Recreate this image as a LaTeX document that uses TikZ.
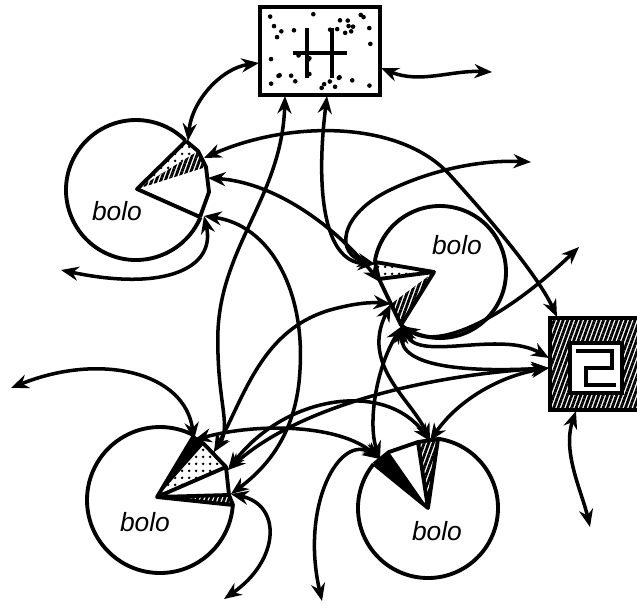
\documentclass[tikz,border=0pt]{standalone}
\usepackage{fontspec}
\setsansfont{Liberation Sans}
\usetikzlibrary{arrows.meta,patterns.meta}

\begin{document}
\begin{tikzpicture}[x=0.02cm, y=-0.02cm,
    >={Stealth[length=10pt,width=8pt]},
    link/.style={<->, line width=2pt},
    ring/.style={line width=2.2pt},
    mouth/.style={line width=2.2pt, line join=round},
    stipple/.style={pattern={Dots[distance=4pt,radius=0.9pt]}},
    hatch/.style={pattern={Lines[angle=70,distance=2.4pt,line width=1.6pt]}},
    bolotext/.style={font=\sffamily\itshape\fontsize{15}{18}\selectfont}]
    \useasboundingbox (0,0) rectangle (637,610);

    % Boxes
    \node (hbox) [draw, line width=2.6pt, minimum width=2.4cm, minimum height=1.76cm] at (320,51) {};
    \pgfmathsetseed{12}
    \foreach \i in {1,...,36} {
        \fill ({266+108*rnd},{13+76*rnd}) circle[radius=2.3];
    }
    \draw[line width=2.6pt] (307,28) -- (307,78) (332,28) -- (332,78) (293,53) -- (347,53);

    \node (zbox) [draw, line width=2.6pt, hatch, minimum width=1.84cm, minimum height=1.84cm] at (596,364) {};
    \node (zcore) [draw, fill=white, line width=2.2pt, minimum width=1.04cm, minimum height=1cm] at (596,368) {};
    \draw[line width=2.4pt] (576,351) -- (612,351) -- (612,368) -- (586,368) -- (586,385) -- (616,385);

    % Bolos
    \coordinate (c1) at (136,190);
    \coordinate (c2) at (440,272);
    \coordinate (c3) at (160,500);
    \coordinate (c4) at (428,508);
    \draw[ring] (c1) ++(23:70) arc[start angle=23, end angle=315, radius=70];
    \draw[ring] (c2) ++(189:66) arc[start angle=189, end angle=486, radius=66];
    \draw[ring] (c3) ++(4:73) arc[start angle=4, end angle=297, radius=73];
    \draw[ring] (c4) ++(-82:70) arc[start angle=-82, end angle=219, radius=70];

    % Mouths
    \fill[stipple] (137,189) -- (186,141) -- (198,151) -- cycle;
    \fill[hatch] (137,189) -- (198,151) -- (206,167) -- cycle;
    \draw[mouth] (186,141) -- (137,189) -- (200,217) (186,141) -- (198,151) -- (206,167) -- (209,192) -- (200,217);

    \fill[stipple] (434,272) -- (375,262) -- (379,279) -- cycle;
    \fill[hatch] (434,272) -- (391,304) -- (401,325) -- cycle;
    \draw[mouth] (375,262) -- (434,272) -- (401,325) -- (391,304) -- (379,279) -- cycle (434,272) -- (379,279);

    \fill (157,497) -- (193,437) -- (204,444) -- cycle;
    \fill[stipple] (157,497) -- (204,444) -- (226,467) -- cycle;
    \fill[hatch] (157,497) -- (229,495) -- (233,505) -- cycle;
    \draw[mouth] (193,437) -- (157,497) -- (233,505) -- (229,495) -- (226,467) -- (204,444) -- cycle (157,497) -- (226,467) (157,497) -- (229,495);

    \fill (428,508) -- (374,464) -- (389,452) -- cycle;
    \fill[hatch] (428,508) -- (418,442) -- (438,439) -- cycle;
    \draw[mouth] (374,464) -- (428,508) -- (438,439) -- (418,442) -- (428,508) (374,464) -- (389,452) -- (418,442);

    \node (t1) [bolotext] at (117,211) {bolo};
    \node (t2) [bolotext] at (457,245) {bolo};
    \node (t3) [bolotext] at (145,522) {bolo};
    \node (t4) [bolotext] at (437,531) {bolo};

    % Ends
    \coordinate (h-w) at (259,63);
    \coordinate (h-e) at (381,68);
    \coordinate (h-s1) at (285,96);
    \coordinate (h-s2) at (327,96);
    \coordinate (z-n) at (557,317);
    \coordinate (z-w1) at (549,358);
    \coordinate (z-w2) at (549,368);
    \coordinate (z-s) at (576,411);
    \coordinate (b1-a) at (188,141);
    \coordinate (b1-b) at (204,158);
    \coordinate (b1-c) at (208,178);
    \coordinate (b1-d) at (204,216);
    \coordinate (b2-a) at (375,264);
    \coordinate (b2-b) at (380,282);
    \coordinate (b2-c) at (391,304);
    \coordinate (b2-d) at (402,326);
    \coordinate (b3-a) at (194,440);
    \coordinate (b3-b) at (214,452);
    \coordinate (b3-c) at (228,470);
    \coordinate (b3-d) at (231,494);
    \coordinate (b4-a) at (380,459);
    \coordinate (b4-c) at (430,441);
    \coordinate (f-he) at (492,72);
    \coordinate (f-ne) at (531,162);
    \coordinate (f-e) at (579,247);
    \coordinate (f-w1) at (61,270);
    \coordinate (f-w2) at (11,388);
    \coordinate (f-se) at (590,527);
    \coordinate (f-s1) at (224,599);
    \coordinate (f-s2) at (322,601);

    % Arrows
    \draw[link] (h-w) .. controls (222,68) and (192,100) .. (b1-a);
    \draw[link] (h-e) .. controls (420,84) and (452,70) .. (f-he);
    \draw[link] (h-s1) .. controls (282,195) and (222,245) .. (218,330) .. controls (216,400) and (232,425) .. (b3-b);
    \draw[link] (h-s2) .. controls (316,185) and (322,262) .. (b2-a);
    \draw[link] (b1-b) .. controls (290,120) and (400,120) .. (450,175) .. controls (500,230) and (540,280) .. (z-n);
    \draw[link] (b2-a) .. controls (335,255) and (338,215) .. (390,190) .. controls (440,166) and (490,160) .. (f-ne);
    \draw[link] (b1-c) .. controls (270,182) and (330,220) .. (b2-b);
    \draw[link] (b1-d) .. controls (270,225) and (305,290) .. (300,370) .. controls (297,430) and (270,465) .. (b3-d);
    \draw[link] (b1-d) .. controls (216,268) and (165,292) .. (f-w1);
    \draw[link] (f-w2) .. controls (100,352) and (185,372) .. (b3-a);
    \draw[link] (b2-d) .. controls (440,350) and (505,318) .. (f-e);
    \draw[link] (b2-d) .. controls (420,362) and (500,330) .. (z-w1);
    \draw[link] (b2-d) .. controls (400,368) and (470,372) .. (z-w2);
    \draw[link] (b3-c) .. controls (300,405) and (430,375) .. (z-w2);
    \draw[link] (b3-c) .. controls (285,395) and (385,380) .. (b4-c);
    \draw[link] (b3-a) .. controls (260,422) and (340,425) .. (b4-a);
    \draw[link] (b3-d) .. controls (282,505) and (280,560) .. (f-s1);
    \draw[link] (b4-a) .. controls (340,432) and (300,505) .. (f-s2);
    \draw[link] (b4-c) .. controls (458,400) and (500,376) .. (z-w2);
    \draw[link] (z-s) .. controls (562,452) and (582,492) .. (f-se);
    \draw[link] (b2-d) .. controls (375,370) and (368,425) .. (b4-a);
    \draw[link] (b3-b) .. controls (245,395) and (262,330) .. (330,310) .. controls (355,303) and (372,302) .. (b2-c);
    \draw[link] (b2-c) .. controls (360,365) and (412,400) .. (b4-c);
\end{tikzpicture}
\end{document}
